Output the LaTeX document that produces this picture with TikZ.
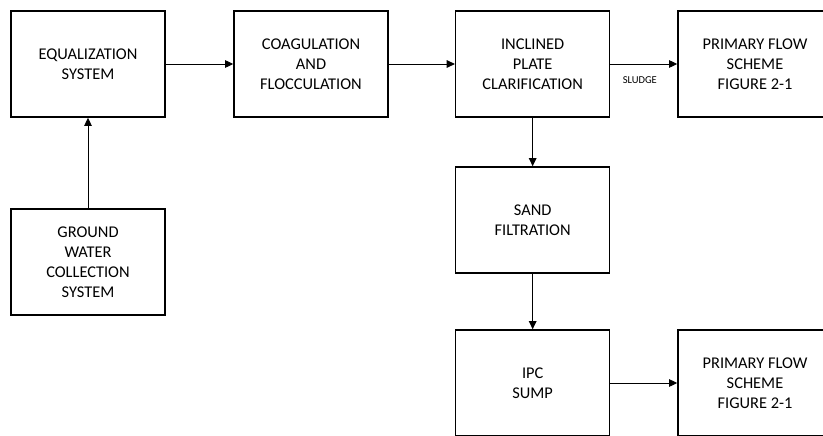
\documentclass[tikz,border=0pt]{standalone}
\usepackage{fontspec}
\setmainfont{Carlito}
\usetikzlibrary{arrows.meta, positioning}

\begin{document}
\begin{tikzpicture}[
    unit/.style={rectangle, draw, line width=1.3pt, minimum width=4.62cm, minimum height=3.18cm, align=center, font=\fontsize{14}{17}\selectfont},
    flow/.style={-{Triangle[length=7pt, width=6.5pt]}, line width=0.8pt}
]
\clip (0,0) rectangle (24.69,-13.05);

% Treatment train
\node[unit] (equal) at (2.64,-1.92) {EQUALIZATION\\SYSTEM};
\node[unit] (coag) at (9.33,-1.92) {COAGULATION\\AND\\FLOCCULATION};
\node[unit] (clarif) at (15.98,-1.92) {INCLINED\\PLATE\\CLARIFICATION};
\node[unit] (primtop) at (22.65,-1.92) {PRIMARY FLOW\\SCHEME\\FIGURE 2-1};

% Feed and downstream units
\node[unit] (ground) at (2.64,-7.86) {GROUND\\WATER\\COLLECTION\\SYSTEM};
\node[unit] (sand) at (15.98,-6.6) {SAND\\FILTRATION};
\node[unit] (sump) at (15.98,-11.49) {IPC\\SUMP};
\node[unit] (primbot) at (22.65,-11.49) {PRIMARY FLOW\\SCHEME\\FIGURE 2-1};

% Flow arrows
\draw[flow] (ground) -- (equal);
\draw[flow] (equal) -- (coag);
\draw[flow] (coag) -- (clarif);
\draw[flow] (clarif) -- node[midway, below=0.25cm, xshift=-0.12cm, font=\fontsize{9}{10}\selectfont] {SLUDGE} (primtop);
\draw[flow] (clarif) -- (sand);
\draw[flow] (sand) -- (sump);
\draw[flow] (sump) -- (primbot);

\end{tikzpicture}
\end{document}
